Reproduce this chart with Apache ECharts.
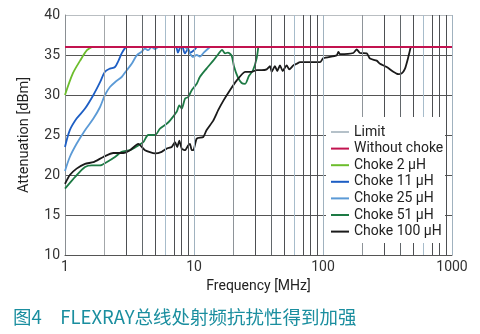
<!DOCTYPE html>
<html>
<head>
<meta charset="utf-8">
<script src="https://cdn.jsdelivr.net/npm/echarts@6/dist/echarts.min.js"></script>
<style>
  html, body { margin: 0; padding: 0; background: #fff; }
  #chart { width: 480px; height: 334px; }
</style>
</head>
<body>
<div id="chart"></div>
<script>
// Frequency sweep: attenuation [dBm] vs frequency [MHz], one list per curve.
const limitFreq = [1, 1000];
const limitVal = [36, 36];

const noChokeFreq = [1, 1000];
const noChokeVal = [36, 36];

const choke2Freq = [1, 1.15, 1.31, 1.48, 1.62];
const choke2Val = [30.0, 32.7, 34.3, 35.6, 36.0];

const choke11Freq = [1, 1.09, 1.23, 1.43, 1.66, 1.87, 2.04, 2.23, 2.44, 2.6, 2.75, 2.9, 3.0,
  7.2, 7.5, 7.8, 8.1, 8.5, 9.0, 9.3, 10.0, 10.5];
const choke11Val = [23.5, 25.6, 27.05, 28.3, 30.0, 31.6, 32.9, 33.3, 33.5, 34.3, 35.2, 35.8, 36.0,
  36.0, 35.3, 35.9, 36.0, 35.2, 35.8, 35.3, 35.6, 36.0];

const choke25Freq = [1, 1.09, 1.23, 1.43, 1.66, 1.87, 2.04, 2.23, 2.44, 2.75, 3.01, 3.29, 3.6,
  3.93, 4.17, 4.42, 4.7, 4.99, 5.3, 8.4, 8.8, 9.3, 9.8, 10.5, 11.1, 11.9, 13.3];
const choke25Val = [20.5, 22.25, 23.9, 25.6, 27.05, 28.5, 30.0, 31.0, 31.6, 32.25, 33.1, 33.9, 34.96,
  35.4, 35.8, 35.6, 36.0, 35.75, 36.0, 36.0, 35.8, 35.2, 34.75, 35.0, 34.8, 35.3, 36.0];

const choke51Freq = [1, 1.13, 1.27, 1.43, 1.61, 1.87, 2.1, 2.44, 2.75, 3.19, 3.7, 4.04, 4.42,
  4.99, 5.45, 6.14, 6.51, 7.34, 7.69, 8.03, 8.52, 9.03, 9.6, 10.5, 11.1, 12.5, 14.1, 15.4,
  16.5, 17.4, 18.3, 19.6, 20.4, 21.9, 23.4, 24.9, 26.7, 28.7, 30.6, 31.5];
const choke51Val = [18.3, 19.3, 20.2, 21.0, 21.2, 21.2, 21.6, 22.25, 22.9, 23.1, 23.7, 24.1, 25.0,
  25.0, 25.8, 26.4, 26.8, 27.9, 28.7, 28.3, 29.55, 29.75, 30.6, 31.4, 32.25, 33.3, 34.3, 35.1,
  35.65, 35.2, 35.3, 34.9, 33.6, 32.2, 31.5, 31.4, 32.4, 33.1, 34.6, 36.0];

const choke100Freq = [1, 1.09, 1.23, 1.43, 1.66, 1.98, 2.37, 2.83, 3.19, 3.7, 4.17, 4.99, 5.62,
  6.14, 6.72, 7.12, 7.42, 7.69, 8.03, 8.52, 9.03, 9.31, 9.6, 9.88, 10.5, 11.8, 12.5, 14.1,
  15.4, 16.9, 19.0, 21.4, 24.9, 28.0, 30.6, 33.5, 36.6, 38.8, 40.0, 42.4, 44.2, 46.4, 48.7,
  52.3, 54.8, 58.9, 62.5, 66.4, 94.8, 100.5, 127.7, 131.5, 135.5, 171.8, 182.5, 193.6, 218.3,
  231.3, 260.6, 276.7, 311.8, 350.8, 383.6, 407.6, 432.3, 458.5, 478.6];
const choke100Val = [18.9, 20.0, 20.8, 21.4, 21.6, 22.25, 22.75, 22.75, 23.1, 23.9, 23.1, 22.7, 22.9,
  23.3, 23.5, 24.1, 23.5, 24.3, 23.3, 23.1, 23.7, 23.9, 23.1, 23.1, 24.55, 24.75, 25.6, 26.8,
  28.1, 29.3, 30.6, 31.8, 32.9, 32.9, 33.1, 33.1, 33.2, 33.6, 32.9, 33.6, 33.0, 33.7, 33.0,
  33.7, 33.2, 33.7, 33.9, 34.1, 34.1, 34.6, 34.96, 35.4, 35.1, 35.25, 35.7, 35.25, 35.2,
  34.55, 34.3, 33.9, 33.5, 32.9, 32.6, 32.7, 33.3, 34.75, 36.0];

// Axis ticks and the log-scale grid positions
const yTicks = [10, 15, 20, 25, 30, 35, 40];
const decadeTicks = [1, 10, 100, 1000];
const gridMultipliers = [2, 3, 4, 5, 6, 7, 8, 9, 10];

// grid line shade per multiplier within a decade
const gridShade = { 2: '#8e9499', 3: '#4d4f52', 4: '#62676b', 5: '#4d4f52', 6: '#a7bccb',
  7: '#4d4f52', 8: '#4d4f52', 9: '#4d4f52', 10: '#a0b2bf' };

const pair = (xs, ys) => xs.map((x, i) => [x, ys[i]]);

const gridLines = [];
[1, 10, 100].forEach(dec => {
  gridMultipliers.forEach(m => {
    const v = dec * m;
    gridLines.push({ xAxis: v, lineStyle: { color: (dec === 1 && m === 2) ? '#a3a7aa' : gridShade[m] } });
  });
});

const FONT = 'Roboto';

const curve = (name, xs, ys, color, width, smooth, z) => ({
  name, type: 'line', data: pair(xs, ys), showSymbol: false, symbol: 'none',
  smooth: smooth, lineStyle: { color, width }, itemStyle: { color }, z: z || 3,
  animation: false
});

const chart = echarts.init(document.getElementById('chart'), null, { renderer: 'canvas' });
chart.setOption({
  animation: false,
  backgroundColor: '#fff',
  title: {
    text: '图4\u3000FLEXRAY总线处射频抗扰性得到加强',
    left: 8, top: 303,
    textStyle: { color: '#1a8e9f', fontSize: 18.5, fontWeight: 'normal',
      fontFamily: 'Noto Sans CJK SC' }
  },
  // white panel behind the legend, hiding the grid there
  graphic: [{
    type: 'rect', left: 326, top: 117, z: 50, silent: true,
    shape: { width: 119, height: 126 },
    style: { fill: '#fff' }
  }],
  grid: { left: 65, right: 28, top: 15, bottom: 79, containLabel: false },
  legend: {
    orient: 'vertical', left: 326, top: 117, z: 60,
    padding: [8, 4, 5, 5],
    icon: 'rect', itemWidth: 18, itemHeight: 2, itemGap: 2.6,
    textStyle: { fontFamily: FONT, fontSize: 14, color: '#222', lineHeight: 14 },
    data: ['Limit', 'Without choke', 'Choke 2 µH', 'Choke 11 µH', 'Choke 25 µH', 'Choke 51 µH', 'Choke 100 µH']
  },
  xAxis: {
    type: 'log', logBase: 10, min: 1, max: 1000,
    name: 'Frequency [MHz]', nameLocation: 'middle', nameGap: 24,
    nameTextStyle: { fontFamily: FONT, fontSize: 14, color: '#222' },
    axisLine: { lineStyle: { color: '#555', width: 1 } },
    axisTick: { show: false },
    axisLabel: { fontFamily: FONT, fontSize: 14, color: '#333', margin: 5,
      formatter: v => String(v) },
    splitLine: { show: false }
  },
  yAxis: {
    type: 'value', min: 10, max: 40, interval: 5,
    name: 'Attenuation [dBm]', nameLocation: 'middle', nameGap: 33,
    nameTextStyle: { fontFamily: FONT, fontSize: 14.5, color: '#222' },
    axisLine: { show: true, lineStyle: { color: '#8a8f93', width: 1 } },
    axisTick: { show: false },
    axisLabel: { fontFamily: FONT, fontSize: 14, color: '#333', margin: 5 },
    splitLine: { show: true, lineStyle: { color: ['#555', '#555', '#555', '#555', '#555', '#555', '#b9bec2'], width: 1 } }
  },
  series: [
    {
      name: 'grid', type: 'line', data: [], z: 1, silent: true,
      markLine: {
        silent: true, symbol: ['none', 'none'], label: { show: false },
        animation: false, lineStyle: { type: 'solid', width: 1 },
        data: gridLines
      }
    },
    curve('Limit', limitFreq, limitVal, '#b5c1c9', 2, false, 2),
    curve('Choke 2 µH', choke2Freq, choke2Val, '#6cbd2c', 1.8, 0.3),
    curve('Choke 11 µH', choke11Freq, choke11Val, '#1d5ec4', 1.8, 0.3),
    curve('Choke 25 µH', choke25Freq, choke25Val, '#5b9ad6', 1.8, 0.3),
    curve('Choke 51 µH', choke51Freq, choke51Val, '#1d7a44', 1.8, 0.25),
    curve('Choke 100 µH', choke100Freq, choke100Val, '#1a1a1a', 1.8, 0.2),
    curve('Without choke', noChokeFreq, noChokeVal, '#c2134f', 2, false, 5)
  ]
});
</script>
</body>
</html>
